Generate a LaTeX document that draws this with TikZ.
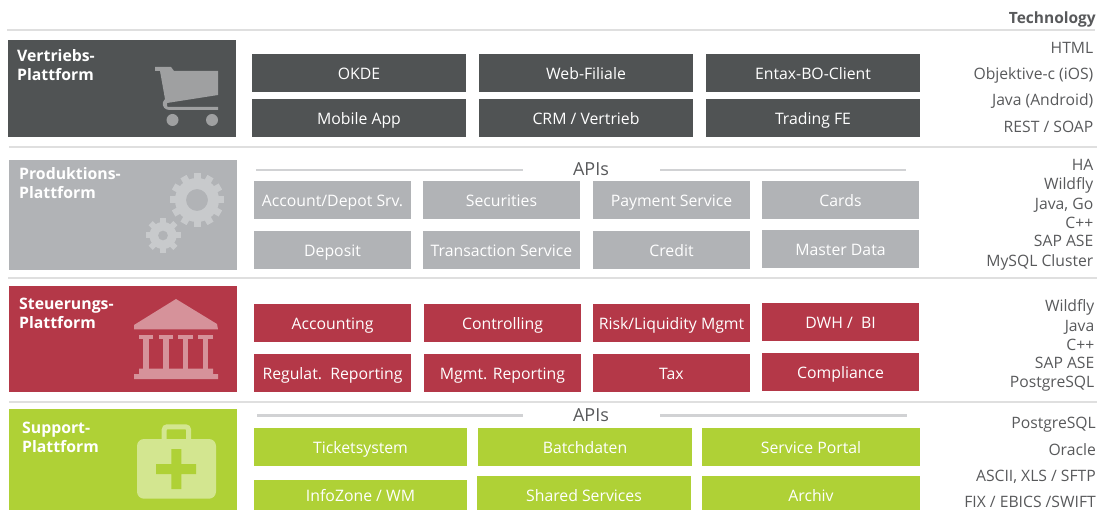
\documentclass[tikz,border=0pt]{standalone}
\usepackage{fontspec}
\setmainfont{Open Sans}
\definecolor{darkgrey}{HTML}{505354}
\definecolor{lightgrey}{HTML}{B1B3B6}
\definecolor{wine}{HTML}{B43848}
\definecolor{lime}{HTML}{AFD136}
\definecolor{rulegrey}{HTML}{DFDFDF}
\definecolor{apigrey}{HTML}{D1D2D4}
\definecolor{techtext}{HTML}{58595B}
\tikzset{
    x=1pt, y=-1pt,
    platform/.style = {rectangle, inner sep=0pt, anchor=north west},
    platform-title/.style = {anchor=north west, inner sep=0pt, text=white, align=left, font=\fontsize{15.8}{19}\selectfont\bfseries},
    service/.style = {rectangle, inner sep=0pt, minimum height=38pt, text height=13.5pt, text depth=0pt, text=white, font=\fontsize{15.8}{18}\selectfont},
    sep-line/.style = {draw=rulegrey, line width=2pt},
    api-line/.style = {draw=apigrey, line width=2.6pt},
    api-label/.style = {inner sep=0pt, text height=12.5pt, text depth=0pt, text=techtext, font=\fontsize{18}{20}\selectfont},
    tech/.style = {anchor=east, inner sep=0pt, text height=12.3pt, text depth=0pt, text=techtext, font=\fontsize{15.7}{18}\selectfont},
}
\begin{document}
\begin{tikzpicture}
\useasboundingbox (0,0) rectangle (1102,510);
% separators
\coordinate (s1a) at (7,30);    \coordinate (s1b) at (1095,30);
\coordinate (s2a) at (9,147);   \coordinate (s2b) at (1097,147);
\coordinate (s3a) at (8,278);   \coordinate (s3b) at (1097,278);
\coordinate (s4a) at (9,402);   \coordinate (s4b) at (1097,402);
\draw [sep-line] (s1a) -- (s1b);
\draw [sep-line] (s2a) -- (s2b);
\draw [sep-line] (s3a) -- (s3b);
\draw [sep-line] (s4a) -- (s4b);

% Vertriebs
\node [platform, fill=darkgrey, minimum width=228pt, minimum height=97pt] (vertrieb) at (8,40) {};
\node [platform-title] (vertrieb-title) at (17,49) {Vertriebs-\\Plattform};
\fill [fill=white!45!darkgrey] (155,67) -- (171,67) -- (174,71) -- (218,71) -- (218,95) -- (167,103) -- (167,106)
    .. controls (167,107) and (168,107) .. (170,107) -- (218,107) -- (218,110) -- (170,110)
    .. controls (165,110) and (162,107) .. (163,102) -- (165,99) -- (160,71) -- (155,71) -- cycle;
\fill [fill=white!45!darkgrey] (172.5,120) circle (6pt) (212,120) circle (6pt);
\foreach \name/\cx/\cy/\txt in {okde/359/73/OKDE, web/586/73/Web-Filiale, entax/813/73/Entax-BO-Client,
    mobile/359/118/Mobile App, crm/586/118/{CRM / Vertrieb}, trading/813/118/Trading FE}
    \node [service, fill=darkgrey, minimum width=214pt] (\name) at (\cx,\cy) {\txt};

% Produktions
\node [platform, fill=lightgrey, minimum width=228pt, minimum height=110pt] (produktion) at (9,160) {};
\node [platform-title] (produktion-title) at (19,167.5) {Produktions-\\Plattform};
\fill [fill=white!30!lightgrey, even odd rule] (197,200) circle (22pt) (197,200) circle (11pt);
\foreach \a in {0,30,...,330}
    \fill [fill=white!30!lightgrey, rotate around={\a:(197,200)}] (193.5,173) rectangle (200.5,182);
\fill [fill=white!30!lightgrey, even odd rule] (163,235.5) circle (13.5pt) (163,235.5) circle (5pt);
\foreach \a in {0,45,...,315}
    \fill [fill=white!30!lightgrey, rotate around={\a:(163,235.5)}] (160,218) rectangle (166,226);
\coordinate (api1a) at (256,170);  \coordinate (api1b) at (523,170);
\coordinate (api1c) at (660,170);  \coordinate (api1d) at (906,170);
\draw [api-line] (api1a) -- (api1b);
\draw [api-line] (api1c) -- (api1d);
\node [api-label] (api1) at (591,169) {APIs};
\foreach \name/\cx/\cy/\txt in {account/332.5/200/{Account/Depot Srv.}, securities/501.5/200/Securities,
    payment/671.5/200/Payment Service, cards/840.5/200/Cards,
    deposit/332.5/250/Deposit, transaction/501.5/250/Transaction Service,
    credit/671.5/250/Credit, master/840.5/249/Master Data}
    \node [service, fill=lightgrey, minimum width=157pt] (\name) at (\cx,\cy) {\txt};

% Steuerungs
\node [platform, fill=wine, minimum width=228pt, minimum height=106pt] (steuerung) at (9,286) {};
\node [platform-title] (steuerung-title) at (19,297.5) {Steuerungs-\\Plattform};
\fill [fill=white!45!wine] (176,299) -- (217,324) -- (218,329.3) -- (134,329.3) -- (134,325) -- cycle;
\fill [fill=white!45!wine] (134,374) rectangle (218,379) (139,368.7) rectangle (213,374);
\foreach \cx in {146,166,185.5,205.5} {
    \fill [fill=white!45!wine] (\cx-7.3,334.7) rectangle (\cx+7.3,339);
    \fill [fill=white!45!wine] (\cx-2.7,339) rectangle (\cx+2.7,369);
}
\foreach \name/\cx/\cy/\txt in {accounting/332.5/323/Accounting, controlling/502.5/323/Controlling,
    risk/671.5/323/{Risk/Liquidity Mgmt}, dwh/840.5/322/{DWH /\ \ BI},
    regulat/332.5/373/Regulat.\ \ Reporting, mgmt/502.5/373/Mgmt. Reporting,
    tax/671.5/373/Tax, compliance/840.5/372/Compliance}
    \node [service, fill=wine, minimum width=157pt] (\name) at (\cx,\cy) {\txt};

% Support
\node [platform, fill=lime, minimum width=228pt, minimum height=101pt] (support) at (9,409) {};
\node [platform-title] (support-title) at (22,421.5) {Support-\\Plattform};
\draw [draw=white!45!lime, line width=5pt, rounded corners=3pt] (164.2,442) -- (164.2,426.8) -- (188.6,426.8) -- (188.6,442);
\fill [fill=white!45!lime, rounded corners=7pt] (137,439) rectangle (216,498.7);
\fill [fill=lime] (171.3,449) rectangle (181.3,489) (156,464) rectangle (196,474);
\coordinate (api2a) at (257,415.5);  \coordinate (api2b) at (523,415.5);
\coordinate (api2c) at (660,415.5);  \coordinate (api2d) at (907,415.5);
\draw [api-line] (api2a) -- (api2b);
\draw [api-line] (api2c) -- (api2d);
\node [api-label] (api2) at (591,415) {APIs};
\foreach \name/\cx/\cy/\boxw/\txt in {ticket/360.5/447/213/Ticketsystem, batch/585/447/214/Batchdaten, portal/811/447/218/Service Portal}
    \node [service, fill=lime, minimum width=\boxw pt] (\name) at (\cx,\cy) {\txt};
\foreach \name/\cx/\cy/\boxw/\boxh/\txt in {info/360.5/495/213/30/{InfoZone / WM}, shared/584/495/214/38/Shared Services, archiv/811/495/218/38/Archiv}
    \node [service, fill=lime, minimum width=\boxw pt, minimum height=\boxh pt] (\name) at (\cx,\cy) {\txt};

% Technology column
\node [tech, font=\fontsize{15.5}{18}\selectfont\bfseries] (tech-head) at (1096,17) {Technology};
\foreach \i/\cy/\txt in {a/47/HTML, b/73.5/Objektive-c (iOS), c/99.5/Java (Android), d/126/{REST / SOAP},
    e/164/HA, f/183.5/Wildfly, g/203/{Java, Go}, h/222/C++, i/240.7/SAP ASE, j/260/MySQL Cluster}
    \node [tech] (tech-\i) at (1093.5,\cy) {\txt};
\foreach \i/\cy/\txt in {k/305.7/Wildfly, l/325/Java, m/344/C++, n/362.7/SAP ASE, o/381.7/PostgreSQL}
    \node [tech] (tech-\i) at (1094.5,\cy) {\txt};
\foreach \i/\cy/\txt in {p/422.3/PostgreSQL, q/449/Oracle, r/475/{ASCII, XLS / SFTP}, s/501/{FIX / EBICS /SWIFT}}
    \node [tech] (tech-\i) at (1096,\cy) {\txt};
\end{tikzpicture}
\end{document}
